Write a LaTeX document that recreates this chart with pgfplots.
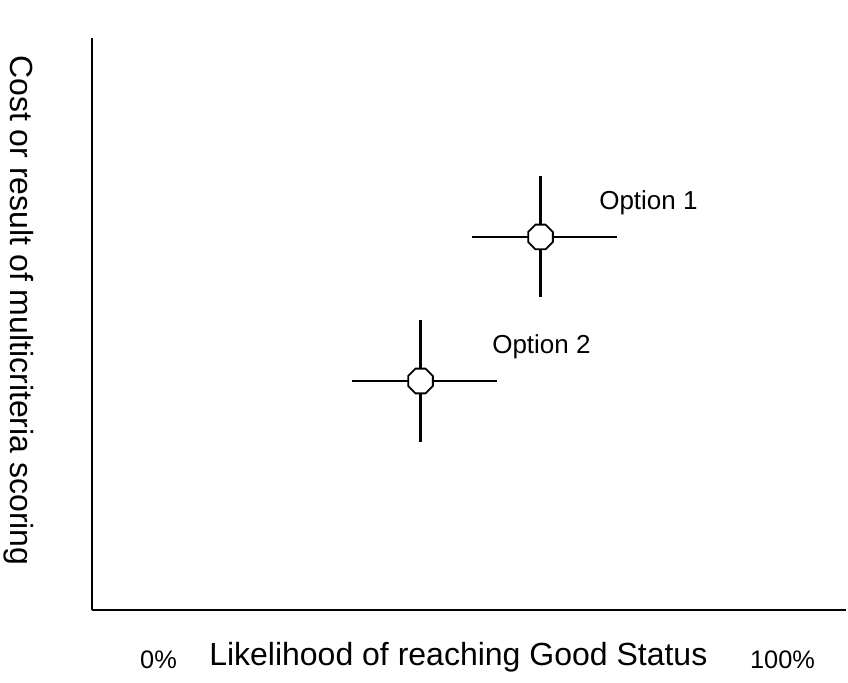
\documentclass[border=0pt]{standalone}
\usepackage{pgfplots}
\pgfplotsset{compat=1.18}
\usepackage{fontspec}
\setmainfont{Liberation Sans}
\pgfdeclareplotmark{oct}{%
  \pgfpathmoveto{\pgfqpointpolar{22.5}{\pgfplotmarksize}}%
  \pgfpathlineto{\pgfqpointpolar{67.5}{\pgfplotmarksize}}%
  \pgfpathlineto{\pgfqpointpolar{112.5}{\pgfplotmarksize}}%
  \pgfpathlineto{\pgfqpointpolar{157.5}{\pgfplotmarksize}}%
  \pgfpathlineto{\pgfqpointpolar{202.5}{\pgfplotmarksize}}%
  \pgfpathlineto{\pgfqpointpolar{247.5}{\pgfplotmarksize}}%
  \pgfpathlineto{\pgfqpointpolar{292.5}{\pgfplotmarksize}}%
  \pgfpathlineto{\pgfqpointpolar{337.5}{\pgfplotmarksize}}%
  \pgfpathclose
  \pgfusepathqfillstroke}
\begin{document}
\begin{tikzpicture}
\begin{axis}[
  scale only axis,
  width=565.5pt, height=429pt,
  xmin=0, xmax=754, ymin=0, ymax=572,
  axis x line*=bottom, axis y line*=left,
  axis line style={-, line width=1.5pt, black},
  xtick=\empty, ytick=\empty,
  clip=false,
]
\addplot[only marks, mark=oct, mark size=10pt,
  mark options={fill=white, draw=black, line width=1.4pt},
  error bars/.cd,
    x dir=both, x explicit, y dir=both, y explicit,
    error mark=none,
    error bar style={line width=1.7pt, black}]
  coordinates {
    (448.5,373) +- (76.5,60.5) -= (68.5,60.5)
    (328.5,229) +- (76.5,60.5) -= (68.5,60.5)
  };
\node[anchor=west, inner sep=0pt, font=\fontsize{19.5}{23}\selectfont] at (axis cs:507,407.5) {Option 1};
\node[anchor=west, inner sep=0pt, font=\fontsize{19.5}{23}\selectfont] at (axis cs:400,263) {Option 2};
\node[anchor=base west, inner sep=0pt, font=\fontsize{24}{29}\selectfont] at (axis cs:117,-55) {Likelihood of reaching Good Status};
\node[anchor=base, inner sep=0pt, font=\fontsize{19}{23}\selectfont] at (axis cs:66.5,-58) {0\%};
\node[anchor=base, inner sep=0pt, font=\fontsize{19}{23}\selectfont] at (axis cs:690.5,-58) {100\%};
\node[anchor=base west, inner sep=0pt, rotate=-90, font=\fontsize{24}{29}\selectfont] at (axis cs:-81,555) {Cost or result of multicriteria scoring};
\coordinate (bl) at (axis cs:-92,-72);
\coordinate (tr) at (axis cs:756,610);
\end{axis}
\pgfresetboundingbox
\path[use as bounding box] (bl) rectangle (tr);
\end{tikzpicture}
\end{document}
